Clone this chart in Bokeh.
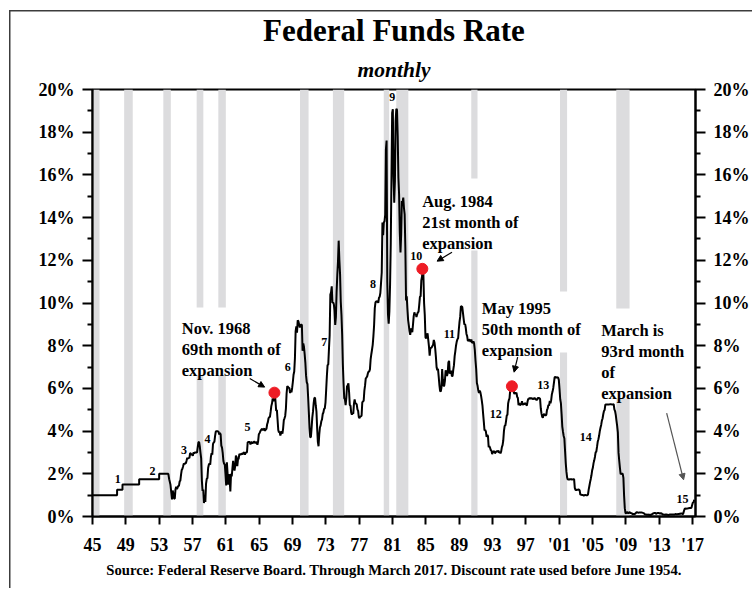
from bokeh.plotting import figure
from bokeh.models import FixedTicker, LinearAxis, Range1d, Title, Arrow, NormalHead
from bokeh.embed import file_html
from bokeh.resources import INLINE
from bokeh.core.properties import value

# ---------------- data ----------------
# Discount rate (before June 1954), step points: decimal year, percent
disc_dates = [1945.0, 1947.95, 1947.95, 1948.6, 1948.6, 1950.6, 1950.6, 1953.0, 1953.0, 1954.1, 1954.2, 1954.35]
disc_rates = [1.00, 1.00, 1.25, 1.25, 1.50, 1.50, 1.75, 1.75, 2.00, 2.00, 1.75, 1.50]

# Federal funds rate, monthly, from July 1954 through March 2017
ff_start_year = 1954
ff_start_month = 7
ff_monthly = [
    0.80, 1.22, 1.06, 0.85, 0.83, 1.28,
    1.39, 1.29, 1.35, 1.43, 1.43, 1.64, 1.68, 1.96, 2.18, 2.24, 2.35, 2.48,
    2.45, 2.50, 2.50, 2.62, 2.75, 2.71, 2.75, 2.73, 2.95, 2.96, 2.88, 2.94,
    2.84, 3.00, 2.96, 3.00, 3.00, 3.00, 2.99, 3.24, 3.47, 3.50, 3.28, 2.98,
    2.72, 1.67, 1.20, 1.26, 0.63, 0.93, 0.68, 1.53, 1.76, 1.80, 2.27, 2.42,
    2.48, 2.43, 2.80, 2.96, 2.90, 3.39, 3.47, 3.50, 3.76, 3.98, 4.00, 3.99,
    3.99, 3.97, 3.84, 3.92, 3.85, 3.32, 3.23, 2.98, 2.60, 2.47, 2.44, 1.98,
    1.45, 2.54, 2.02, 1.49, 1.98, 1.73, 1.17, 2.00, 1.88, 2.26, 2.61, 2.33,
    2.15, 2.37, 2.85, 2.78, 2.36, 2.68, 2.71, 2.93, 2.90, 2.90, 2.94, 2.93,
    2.92, 3.00, 2.98, 2.90, 3.00, 2.99, 3.02, 3.49, 3.48, 3.50, 3.48, 3.38,
    3.48, 3.48, 3.43, 3.47, 3.50, 3.50, 3.42, 3.50, 3.45, 3.36, 3.52, 3.85,
    3.90, 3.98, 4.04, 4.09, 4.10, 4.04, 4.09, 4.12, 4.01, 4.08, 4.10, 4.32,
    4.42, 4.60, 4.65, 4.67, 4.90, 5.17, 5.30, 5.53, 5.40, 5.53, 5.76, 5.40,
    4.94, 5.00, 4.53, 4.05, 3.94, 3.98, 3.79, 3.90, 3.99, 3.88, 4.13, 4.51,
    4.60, 4.71, 5.05, 5.76, 6.11, 6.07, 6.02, 6.03, 5.78, 5.91, 5.82, 6.02,
    6.30, 6.64, 6.79, 7.41, 8.67, 8.90, 8.61, 9.19, 9.15, 9.00, 8.85, 8.97,
    8.98, 8.98, 7.76, 8.10, 7.95, 7.61, 7.21, 6.61, 6.29, 6.20, 5.60, 4.90,
    4.14, 3.72, 3.71, 4.15, 4.63, 4.91, 5.31, 5.56, 5.55, 5.20, 4.91, 4.14,
    3.50, 3.29, 3.83, 4.17, 4.27, 4.46, 4.55, 4.80, 4.87, 5.04, 5.06, 5.33,
    5.94, 6.58, 7.09, 7.12, 7.84, 8.49, 10.40, 10.50, 10.78, 10.01, 10.03, 9.95,
    9.65, 8.97, 9.35, 10.51, 11.31, 11.93, 12.92, 12.01, 11.34, 10.06, 9.45, 8.53,
    7.13, 6.24, 5.54, 5.49, 5.22, 5.55, 6.10, 6.14, 6.24, 5.82, 5.22, 5.20,
    4.87, 4.77, 4.84, 4.82, 5.29, 5.48, 5.31, 5.29, 5.25, 5.02, 4.95, 4.65,
    4.61, 4.68, 4.69, 4.73, 5.35, 5.39, 5.42, 5.90, 6.14, 6.47, 6.51, 6.56,
    6.70, 6.78, 6.79, 6.89, 7.36, 7.60, 7.81, 8.04, 8.45, 8.96, 9.76, 10.03,
    10.07, 10.06, 10.09, 10.01, 10.24, 10.29, 10.47, 10.94, 11.43, 13.77, 13.18, 13.78,
    13.82, 14.13, 17.19, 17.61, 10.98, 9.47, 9.03, 9.61, 10.87, 12.81, 15.85, 18.90,
    19.08, 15.93, 14.70, 15.72, 18.52, 19.10, 19.04, 17.82, 15.87, 15.08, 13.31, 12.37,
    13.22, 14.78, 14.68, 14.94, 14.45, 14.15, 12.59, 10.12, 10.31, 9.71, 9.20, 8.95,
    8.68, 8.51, 8.77, 8.80, 8.63, 8.98, 9.37, 9.56, 9.45, 9.48, 9.34, 9.47,
    9.56, 9.59, 9.91, 10.29, 10.32, 11.06, 11.23, 11.64, 11.30, 9.99, 9.43, 8.38,
    8.35, 8.50, 8.58, 8.27, 7.97, 7.53, 7.88, 7.90, 7.92, 7.99, 8.05, 8.27,
    8.14, 7.86, 7.48, 6.99, 6.85, 6.92, 6.56, 6.17, 5.89, 5.85, 6.04, 6.91,
    6.43, 6.10, 6.13, 6.37, 6.85, 6.73, 6.58, 6.73, 7.22, 7.29, 6.69, 6.77,
    6.83, 6.58, 6.58, 6.87, 7.09, 7.51, 7.75, 8.01, 8.19, 8.30, 8.35, 8.76,
    9.12, 9.36, 9.85, 9.84, 9.81, 9.53, 9.24, 8.99, 9.02, 8.84, 8.55, 8.45,
    8.23, 8.24, 8.28, 8.26, 8.18, 8.29, 8.15, 8.13, 8.20, 8.11, 7.81, 7.31,
    6.91, 6.25, 6.12, 5.91, 5.78, 5.90, 5.82, 5.66, 5.45, 5.21, 4.81, 4.43,
    4.03, 4.06, 3.98, 3.73, 3.82, 3.76, 3.25, 3.30, 3.22, 3.10, 3.09, 2.92,
    3.02, 3.03, 3.07, 2.96, 3.00, 3.04, 3.06, 3.03, 3.09, 2.99, 3.02, 2.96,
    3.05, 3.25, 3.34, 3.56, 4.01, 4.25, 4.26, 4.47, 4.73, 4.76, 5.29, 5.45,
    5.53, 5.92, 5.98, 6.05, 6.01, 6.00, 5.85, 5.74, 5.80, 5.76, 5.80, 5.60,
    5.56, 5.22, 5.31, 5.22, 5.24, 5.27, 5.40, 5.22, 5.30, 5.24, 5.31, 5.29,
    5.25, 5.19, 5.39, 5.51, 5.50, 5.56, 5.52, 5.54, 5.54, 5.50, 5.52, 5.50,
    5.56, 5.51, 5.49, 5.45, 5.49, 5.56, 5.54, 5.55, 5.51, 5.07, 4.83, 4.68,
    4.63, 4.76, 4.81, 4.74, 4.74, 4.76, 4.99, 5.07, 5.22, 5.20, 5.42, 5.30,
    5.45, 5.73, 5.85, 6.02, 6.27, 6.53, 6.54, 6.50, 6.52, 6.51, 6.51, 6.40,
    5.98, 5.49, 5.31, 4.80, 4.21, 3.97, 3.77, 3.65, 3.07, 2.49, 2.09, 1.82,
    1.73, 1.74, 1.73, 1.75, 1.75, 1.75, 1.73, 1.74, 1.75, 1.75, 1.34, 1.24,
    1.24, 1.26, 1.25, 1.26, 1.26, 1.22, 1.01, 1.03, 1.01, 1.01, 1.00, 0.98,
    1.00, 1.01, 1.00, 1.00, 1.00, 1.03, 1.26, 1.43, 1.61, 1.76, 1.93, 2.16,
    2.28, 2.50, 2.63, 2.79, 3.00, 3.04, 3.26, 3.50, 3.62, 3.78, 4.00, 4.16,
    4.29, 4.49, 4.59, 4.79, 4.94, 4.99, 5.24, 5.25, 5.25, 5.25, 5.25, 5.24,
    5.25, 5.26, 5.26, 5.25, 5.25, 5.25, 5.26, 5.02, 4.94, 4.76, 4.49, 4.24,
    3.94, 2.98, 2.61, 2.28, 1.98, 2.00, 2.01, 2.00, 1.81, 0.97, 0.39, 0.16,
    0.15, 0.22, 0.18, 0.15, 0.18, 0.21, 0.16, 0.16, 0.15, 0.12, 0.12, 0.12,
    0.11, 0.13, 0.16, 0.20, 0.20, 0.18, 0.18, 0.19, 0.19, 0.19, 0.19, 0.18,
    0.17, 0.16, 0.14, 0.10, 0.09, 0.09, 0.07, 0.10, 0.08, 0.07, 0.08, 0.07,
    0.08, 0.10, 0.13, 0.14, 0.16, 0.16, 0.16, 0.13, 0.14, 0.16, 0.16, 0.16,
    0.14, 0.15, 0.14, 0.15, 0.11, 0.09, 0.09, 0.08, 0.08, 0.09, 0.08, 0.09,
    0.07, 0.07, 0.08, 0.09, 0.09, 0.10, 0.09, 0.09, 0.09, 0.09, 0.09, 0.12,
    0.11, 0.11, 0.11, 0.12, 0.12, 0.13, 0.13, 0.14, 0.14, 0.12, 0.12, 0.24,
    0.34, 0.38, 0.36, 0.37, 0.37, 0.38, 0.39, 0.40, 0.40, 0.40, 0.41, 0.54,
    0.65, 0.66, 0.79,
]

# Recessions (shaded), decimal years
rec_start = [1945.12, 1948.8, 1953.5, 1957.5, 1960.1, 1969.9, 1973.85, 1979.95, 1981.45, 1990.45, 2001.1, 2007.85]
rec_end = [1945.84, 1949.83, 1954.4, 1958.3, 1961.0, 1970.93, 1975.2, 1980.6, 1982.9, 1991.2, 2001.95, 2009.45]

# Highlighted points (red dots)
dot_dates = [1966.83, 1984.58, 1995.33]
dot_rates = [5.8, 11.6, 6.1]

# Expansion numbers
exp_labels = [str(i) for i in range(1, 16)]

# Axis ticks
x_ticks = list(range(1945, 2018, 4))
x_tick_labels = ["45", "49", "53", "57", "61", "65", "69", "73", "77", "81", "85", "89",
                 "93", "97", "'01", "'05", "'09", "'13", "'17"]
y_ticks = [0, 2, 4, 6, 8, 10, 12, 14, 16, 18, 20]
y_minor = [1, 3, 5, 7, 9, 11, 13, 15, 17, 19]
y_tick_labels = ["0%", "2%", "4%", "6%", "8%", "10%", "12%", "14%", "16%", "18%", "20%"]

annotations = [
    ["Nov. 1968", "69th month of", "expansion"],
    ["Aug. 1984", "21st month of", "expansion"],
    ["May 1995", "50th month of", "expansion"],
    ["March is", "93rd month", "of", "expansion"],
]

title_text = "Federal Funds Rate"
subtitle_text = "monthly"
source_text = "Source: Federal Reserve Board. Through March 2017. Discount rate used before June 1954."

# ---------------- layout / styling ----------------
SERIF = "Liberation Serif"
X0, X1 = 1945.0, 2017.36
W, H = 752, 588

ff_dates = [ff_start_year + (ff_start_month - 1 + i + 0.5) / 12 for i in range(len(ff_monthly))]
all_dates = disc_dates + ff_dates
all_rates = disc_rates + ff_monthly

p = figure(width=W, height=H, x_range=Range1d(X0, X1), y_range=Range1d(0, 20),
           output_backend="svg", toolbar_location=None,
           min_border_left=92, min_border_right=W - 698, min_border_top=89, min_border_bottom=H - 516)
# outer frame of the chart (left and top edges visible)
p.styles = {
    "background-color": "#ffffff",
    "background-image": "linear-gradient(#3c3c3c, #3c3c3c), linear-gradient(#3c3c3c, #3c3c3c)",
    "background-position": "8.5px 10.3px, 8.5px 10.3px",
    "background-size": "1.5px 100%, 100% 1.5px",
    "background-repeat": "no-repeat",
}
p.title.visible = False
p.xgrid.visible = False
p.ygrid.visible = False
p.outline_line_color = "black"
p.outline_line_width = 2
p.background_fill_color = "white"
p.border_fill_alpha = 0

# recession bands, with gaps where annotation text sits
band_gaps = {1957.5: (6.6, 9.79), 1960.1: (6.6, 9.79), 1990.45: (12.46, 15.83),
             2001.1: (7.68, 10.54), 2007.85: (5.53, 9.74)}
bl, br, bb, bt = [], [], [], []
for s, e in zip(rec_start, rec_end):
    if s in band_gaps:
        lo, hi = band_gaps[s]
        bl += [s, s]; br += [e, e]; bb += [0, hi]; bt += [lo, 20]
    else:
        bl.append(s); br.append(e); bb.append(0); bt.append(20)
p.quad(left=bl, right=br, bottom=bb, top=bt, fill_color="#dcdcde", line_color=None)

p.line(all_dates, all_rates, line_color="black", line_width=2)

p.scatter(dot_dates, dot_rates, size=11, fill_color="#ee1c25", line_color="#ee1c25")

# expansion number labels
exp_x = [1948.02, 1952.2, 1955.99, 1958.81, 1963.59, 1968.44, 1972.82, 1978.67, 1980.98,
         1983.84, 1987.83, 1993.39, 1999.09, 2004.19, 2015.81]
exp_y = [1.77, 2.15, 3.12, 3.64, 4.18, 6.99, 8.16, 10.90, 19.64, 12.22, 8.56, 4.81, 6.14, 3.71, 0.83]
p.text(exp_x, exp_y, text=exp_labels, text_font=value(SERIF), text_font_style="bold",
       text_font_size="12px", text_align="center", text_baseline="middle", text_color="black")

# annotation text blocks
ann_anchor = [(1955.71, 8.82), (1984.56, 14.77), (1991.72, 9.73), (2006.05, 8.71)]
line_step = 21 / 21.35
tx, ty, tt = [], [], []
for (ax, ay), lines in zip(ann_anchor, annotations):
    for k, ln in enumerate(lines):
        tx.append(ax); ty.append(ay - k * line_step); tt.append(ln)
p.text(tx, ty, text=tt, text_font=value(SERIF), text_font_style="bold",
       text_font_size="16.5px", text_align="left", text_baseline="alphabetic", text_color="black")

# arrows
arrows = [((1963.87, 6.46), (1965.66, 6.06), "black"),
          ((1988.14, 12.38), (1986.35, 11.96), "black"),
          ((1996.02, 7.46), (1995.59, 6.76), "black"),
          ((2013.90, 4.84), (2015.93, 1.72), "#555555")]
for (xs, ys), (xe, ye), c in arrows:
    p.add_layout(Arrow(end=NormalHead(size=6, fill_color=c, line_color=c), x_start=xs, y_start=ys,
                       x_end=xe, y_end=ye, line_color=c, line_width=1.2))

# axes
right_axis = LinearAxis()
p.add_layout(right_axis, "right")
for ax in [p.yaxis[0], right_axis]:
    ax.ticker = FixedTicker(ticks=y_ticks, minor_ticks=y_minor)
    ax.major_label_overrides = {t: lab for t, lab in zip(y_ticks, y_tick_labels)}
    ax.major_tick_out = 10
    ax.major_tick_in = 0
    ax.minor_tick_out = 5
    ax.minor_tick_in = 0
    ax.major_tick_line_width = 2
    ax.minor_tick_line_width = 2
    ax.axis_line_width = 2
    ax.major_label_text_font = SERIF
    ax.major_label_text_font_style = "bold"
    ax.major_label_text_font_size = "18px"
    ax.major_label_text_color = "black"
    ax.major_label_standoff = 8

xa = p.xaxis[0]
xa.ticker = FixedTicker(ticks=x_ticks, minor_ticks=[])
xa.major_label_overrides = {t: lab for t, lab in zip(x_ticks, x_tick_labels)}
xa.major_tick_out = 8
xa.major_tick_in = 0
xa.major_tick_line_width = 2
xa.axis_line_width = 2
xa.major_label_text_font = SERIF
xa.major_label_text_font_style = "bold"
xa.major_label_text_font_size = "18px"
xa.major_label_text_color = "black"
xa.major_label_standoff = 10
xa.axis_label = source_text
xa.axis_label_text_font = SERIF
xa.axis_label_text_font_style = "bold"
xa.axis_label_text_font_size = "14.7px"
xa.axis_label_text_color = "black"
xa.axis_label_standoff = 4

# subtitle first (closest to the frame), then the main title above it
p.add_layout(Title(text=subtitle_text, text_font=SERIF, text_font_style="bold italic",
                   text_font_size="21.5px", align="center", text_color="black", standoff=16), "above")
p.add_layout(Title(text=title_text, text_font=SERIF, text_font_style="bold",
                   text_font_size="31px", align="center", text_color="black", standoff=0), "above")

open("out.html", "w").write(file_html(p, INLINE))
